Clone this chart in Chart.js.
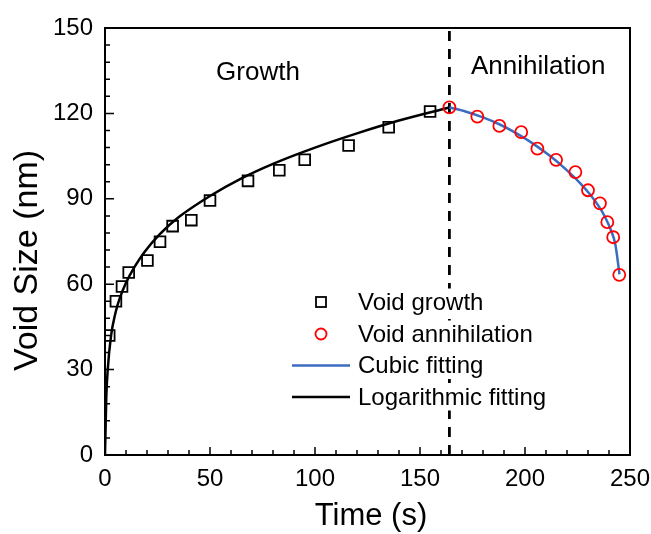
<!DOCTYPE html>
<html>
<head>
<meta charset="utf-8">
<script src="https://cdn.jsdelivr.net/npm/chart.js@4.4.1/dist/chart.umd.min.js"></script>
<style>
  html, body { margin: 0; padding: 0; background: #fff; }
  #wrap { width: 651px; height: 534px; }
</style>
</head>
<body>
<div id="wrap"><canvas id="voidChart" width="651" height="534"></canvas></div>
<script>
// ==================== Data ====================
const growthTime = [2.0, 5.2, 8.1, 11.3, 20.2, 26.2, 32.2, 41.1, 50, 68.1, 83, 95.1, 116, 135.1, 154.8];
const growthSize = [42, 54, 59.2, 64.1, 68.3, 74.9, 80.4, 82.5, 89.4, 96.3, 100, 103.7, 108.7, 115.1, 120.7];

const annihTime = [164, 177.3, 187.8, 198.2, 205.9, 214.8, 224, 230, 235.7, 239.2, 242, 244.9];
const annihSize = [122.1, 118.9, 115.6, 113.4, 107.6, 103.7, 99.4, 93, 88.4, 81.8, 76.5, 63.3];

const logTime = [0, 0.3, 0.6, 1.3, 2.9, 5, 7, 10, 14, 19, 26, 35, 50, 65, 80, 100, 120, 140, 164];
const logSize = [0, 10, 20, 30, 42, 50, 55, 60.5, 66, 71.5, 77.5, 83.5, 91, 97.2, 102.3, 108, 113, 117.5, 122.1];

const cubicTime = [164, 172, 180, 188, 196, 204, 212, 220, 226, 231, 235, 238, 241, 243, 245];
const cubicSize = [122.1, 120.6, 118.6, 116.1, 113.0, 109.3, 105.0, 100.0, 95.7, 91.5, 87.5, 83.8, 78.8, 74, 63.5];

const dividerTime = [164, 164];
const dividerSize = [0, 150];

const xTicks = [0, 50, 100, 150, 200, 250];
const yTicks = [0, 30, 60, 90, 120, 150];

const legendLabels = ['Void growth', 'Void annihilation', 'Cubic fitting', 'Logarithmic fitting'];

const FONT = "'Liberation Sans', Arial, Helvetica, sans-serif";
const BLUE = '#3b6cc0';

function toPoints(xs, ys) {
    return xs.map((x, i) => ({ x: x, y: ys[i] }));
}

// ==================== Frame, inward ticks, texts, legend ====================
const framePlugin = {
    id: 'frame',
    afterDatasetsDraw(chart) {
        const ctx = chart.ctx;
        const area = chart.chartArea;
        const xs = chart.scales.x;
        const ys = chart.scales.y;
        ctx.save();
        ctx.strokeStyle = '#000';
        ctx.lineWidth = 2;
        ctx.strokeRect(area.left, area.top, area.right - area.left, area.bottom - area.top);

        // inward ticks
        ctx.lineWidth = 1.5;
        ctx.beginPath();
        for (let v = 0; v <= 250; v += 10) {
            const px = xs.getPixelForValue(v);
            const len = (v % 50 === 0) ? 8 : 5;
            ctx.moveTo(px, area.bottom);
            ctx.lineTo(px, area.bottom - len);
        }
        for (let v = 0; v <= 150; v += 6) {
            const py = ys.getPixelForValue(v);
            const len = (v % 30 === 0) ? 9 : 5;
            ctx.moveTo(area.left, py);
            ctx.lineTo(area.left + len, py);
        }
        ctx.stroke();

        // region labels
        ctx.fillStyle = '#000';
        ctx.font = '26px ' + FONT;
        ctx.textBaseline = 'alphabetic';
        ctx.textAlign = 'center';
        ctx.fillText('Growth', 258, 80);
        ctx.textAlign = 'left';
        ctx.fillText('Annihilation', 471, 74);

        // legend (text rows sit on white boxes that hide the divider)
        const rows = [302, 334, 365.5, 397];
        const mx = 321;
        ctx.font = '24px ' + FONT;
        ctx.textBaseline = 'middle';
        ctx.textAlign = 'left';
        legendLabels.forEach((t, i) => {
            const w = ctx.measureText(t).width;
            ctx.fillStyle = '#fff';
            ctx.fillRect(356, rows[i] - 13.5, w + 4, 27);
            ctx.fillStyle = '#000';
            ctx.fillText(t, 358, rows[i] + 1);
        });

        ctx.lineWidth = 1.8;
        ctx.strokeStyle = '#000';
        ctx.strokeRect(mx - 5, rows[0] - 5, 10, 10);
        ctx.strokeStyle = '#ff0000';
        ctx.beginPath();
        ctx.arc(mx, rows[1], 5.5, 0, Math.PI * 2);
        ctx.stroke();
        ctx.lineWidth = 2.5;
        ctx.strokeStyle = BLUE;
        ctx.beginPath();
        ctx.moveTo(292, rows[2]);
        ctx.lineTo(350, rows[2]);
        ctx.stroke();
        ctx.strokeStyle = '#000';
        ctx.beginPath();
        ctx.moveTo(292, rows[3]);
        ctx.lineTo(350, rows[3]);
        ctx.stroke();

        // axis titles
        ctx.fillStyle = '#000';
        ctx.textBaseline = 'alphabetic';
        ctx.textAlign = 'center';
        ctx.font = '31px ' + FONT;
        ctx.fillText('Time (s)', 371, 525);
        ctx.translate(37, 260.5);
        ctx.rotate(-Math.PI / 2);
        ctx.font = '34px ' + FONT;
        ctx.fillText('Void Size (nm)', 0, 0);
        ctx.restore();
    }
};

// ==================== Chart ====================
function initChart() {
    const ctx = document.getElementById('voidChart').getContext('2d');

    new Chart(ctx, {
        type: 'scatter',
        data: {
            datasets: [
                {
                    label: 'Void growth',
                    data: toPoints(growthTime, growthSize),
                    pointStyle: 'rect',
                    pointRadius: 7.6,
                    pointBorderWidth: 1.8,
                    pointBorderColor: '#000',
                    pointBackgroundColor: 'rgba(0,0,0,0)',
                    showLine: false
                },
                {
                    label: 'Void annihilation',
                    data: toPoints(annihTime, annihSize),
                    pointStyle: 'circle',
                    pointRadius: 6,
                    pointBorderWidth: 1.8,
                    pointBorderColor: '#ff0000',
                    pointBackgroundColor: 'rgba(0,0,0,0)',
                    showLine: false
                },
                {
                    label: 'Cubic fitting',
                    data: toPoints(cubicTime, cubicSize),
                    showLine: true,
                    borderColor: BLUE,
                    borderWidth: 2.5,
                    pointRadius: 0,
                    cubicInterpolationMode: 'monotone'
                },
                {
                    label: 'Logarithmic fitting',
                    data: toPoints(logTime, logSize),
                    showLine: true,
                    borderColor: '#000',
                    borderWidth: 2.5,
                    pointRadius: 0,
                    cubicInterpolationMode: 'monotone'
                },
                {
                    label: 'divider',
                    data: toPoints(dividerTime, dividerSize),
                    showLine: true,
                    borderColor: '#000',
                    borderWidth: 2.8,
                    borderDash: [10, 8],
                    pointRadius: 0
                }
            ]
        },
        options: {
            responsive: false,
            animation: false,
            layout: { padding: { left: 0, top: 28, right: 21, bottom: 0 } },
            plugins: {
                legend: { display: false },
                tooltip: { enabled: false }
            },
            scales: {
                x: {
                    type: 'linear',
                    min: 0,
                    max: 250,
                    afterFit: s => { s.height = 79; s.paddingLeft = 0; s.paddingRight = 0; },
                    afterBuildTicks: s => { s.ticks = xTicks.map(v => ({ value: v })); },
                    grid: { display: false, drawTicks: false },
                    border: { display: false },
                    ticks: {
                        color: '#000',
                        padding: 10,
                        maxRotation: 0,
                        font: { family: FONT, size: 24 }
                    }
                },
                y: {
                    type: 'linear',
                    min: 0,
                    max: 150,
                    afterFit: s => { s.width = 105; s.paddingTop = 0; s.paddingBottom = 0; },
                    afterBuildTicks: s => { s.ticks = yTicks.map(v => ({ value: v })); },
                    grid: { display: false, drawTicks: false },
                    border: { display: false },
                    ticks: {
                        color: '#000',
                        padding: 12,
                        font: { family: FONT, size: 24 }
                    }
                }
            }
        },
        plugins: [framePlugin]
    });
}

initChart();
</script>
</body>
</html>
